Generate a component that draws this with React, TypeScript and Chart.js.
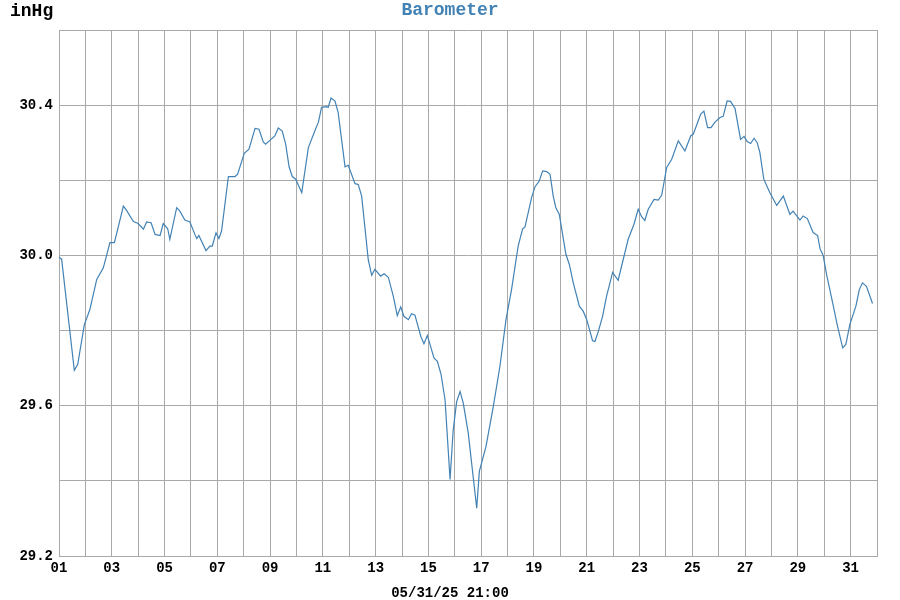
import React, { useEffect, useRef } from "react";
import { Chart, registerables } from "chart.js";

Chart.register(...registerables);

// Time in days since 05/01 00:00
const dayOffsets: number[] = [
  0.0, 0.1, 0.58, 0.71, 0.96, 1.17, 1.43, 1.68, 1.93, 2.1, 2.44, 2.56, 2.82, 3.0,
  3.2, 3.32, 3.49, 3.64, 3.83, 3.95, 4.12, 4.2, 4.46, 4.58, 4.77, 4.96, 5.15, 5.22,
  5.3, 5.57, 5.72, 5.81, 5.95, 6.06, 6.16, 6.42, 6.67, 6.77, 7.02, 7.2, 7.43, 7.58,
  7.74, 7.83, 8.0, 8.18, 8.31, 8.46, 8.59, 8.72, 8.84, 8.97, 9.2, 9.45, 9.73, 9.83,
  9.95, 10.14, 10.2, 10.31, 10.46, 10.58, 10.84, 10.96, 11.22, 11.34, 11.47, 11.72,
  11.85, 11.97, 12.19, 12.32, 12.48, 12.67, 12.82, 12.95, 13.07, 13.24, 13.36, 13.49,
  13.71, 13.83, 13.96, 14.21, 14.34, 14.48, 14.63, 14.82, 14.94, 15.07, 15.2, 15.32,
  15.51, 15.83, 15.93, 16.18, 16.46, 16.71, 16.94, 17.15, 17.4, 17.57, 17.66, 17.91,
  18.04, 18.2, 18.33, 18.48, 18.61, 18.73, 18.83, 18.96, 19.21, 19.34, 19.49, 19.72,
  19.87, 20.0, 20.22, 20.31, 20.44, 20.6, 20.75, 20.98, 21.19, 21.57, 21.79, 21.95,
  22.08, 22.2, 22.33, 22.55, 22.71, 22.84, 23.03, 23.22, 23.47, 23.72, 23.94, 24.04,
  24.32, 24.44, 24.58, 24.71, 24.86, 25.05, 25.17, 25.32, 25.45, 25.62, 25.83, 25.96,
  26.08, 26.21, 26.34, 26.46, 26.56, 26.71, 26.94, 27.2, 27.45, 27.7, 27.82, 28.08,
  28.2, 28.36, 28.58, 28.75, 28.84, 28.96, 29.09, 29.32, 29.49, 29.7, 29.82, 29.97,
  30.2, 30.33, 30.45, 30.6, 30.83,
];

const pressure: number[] = [
  29.995, 29.99, 29.694, 29.71, 29.816, 29.856, 29.936, 29.967, 30.034, 30.034, 30.131, 30.12, 30.09, 30.085,
  30.07, 30.089, 30.087, 30.056, 30.053, 30.085, 30.071, 30.043, 30.127, 30.118, 30.094, 30.089, 30.056, 30.045,
  30.053, 30.013, 30.025, 30.025, 30.06, 30.045, 30.065, 30.21, 30.21, 30.216, 30.272, 30.283, 30.338, 30.336,
  30.302, 30.296, 30.307, 30.318, 30.339, 30.331, 30.296, 30.236, 30.21, 30.203, 30.167, 30.287, 30.338, 30.354,
  30.394, 30.396, 30.394, 30.419, 30.411, 30.38, 30.236, 30.24, 30.191, 30.189, 30.158, 29.989,
  29.947, 29.963, 29.945, 29.951, 29.942, 29.891, 29.84, 29.863, 29.838, 29.829, 29.845, 29.841,
  29.785, 29.765, 29.787, 29.727, 29.718, 29.683, 29.616, 29.404, 29.536, 29.611, 29.638, 29.607,
  29.527, 29.327, 29.425, 29.491, 29.598, 29.705, 29.829, 29.909, 30.025, 30.071, 30.076, 30.154,
  30.183, 30.198, 30.225, 30.223, 30.216, 30.158, 30.127, 30.109, 30.003, 29.976, 29.927, 29.865,
  29.851, 29.829, 29.773, 29.771, 29.798, 29.838, 29.891, 29.955, 29.934, 30.043, 30.083, 30.123,
  30.103, 30.093, 30.123, 30.149, 30.147, 30.16, 30.234, 30.256, 30.305, 30.278, 30.318, 30.323,
  30.376, 30.384, 30.34, 30.34, 30.355, 30.367, 30.37, 30.411, 30.41, 30.391, 30.309, 30.317,
  30.303, 30.298, 30.312, 30.3, 30.274, 30.203, 30.167, 30.133, 30.158, 30.109, 30.118, 30.094,
  30.105, 30.098, 30.061, 30.053, 30.018, 30.0, 29.949, 29.874, 29.816, 29.754, 29.763, 29.816,
  29.865, 29.909, 29.927, 29.918, 29.872,
];

const yLabeledTicks: number[] = [29.2, 29.6, 30.0, 30.4];
const chartTitle = "Barometer";
const unitLabel = "inHg";
const timeLabel = "05/31/25 21:00";

const LINE_COLOR = "#4282b4";
const GRID_COLOR = "#a9a9a9";
const FONT = "'Liberation Mono', 'DejaVu Sans Mono', monospace";

export default function App() {
  const canvasRef = useRef<HTMLCanvasElement | null>(null);

  useEffect(() => {
    document.body.style.margin = "0";
    const canvas = canvasRef.current;
    if (!canvas) return;

    const textPlugin = {
      id: "textPlugin",
      afterDraw(chart: any) {
        const ctx = chart.ctx;
        ctx.save();
        ctx.textBaseline = "alphabetic";
        ctx.font = `bold 18px ${FONT}`;
        ctx.fillStyle = "#000000";
        ctx.textAlign = "left";
        ctx.fillText(unitLabel, 10, 16);
        ctx.fillStyle = LINE_COLOR;
        ctx.textAlign = "center";
        ctx.fillText(chartTitle, 450, 15);
        ctx.font = `bold 14px ${FONT}`;
        ctx.fillStyle = "#000000";
        ctx.fillText(timeLabel, 450, 597);
        ctx.restore();
      },
    };

    const chart = new Chart(canvas, {
      type: "line",
      data: {
        datasets: [
          {
            data: dayOffsets.map((d, i) => ({ x: d, y: pressure[i] })),
            borderColor: LINE_COLOR,
            borderWidth: 1.2,
            pointRadius: 0,
            tension: 0,
            fill: false,
          },
        ],
      },
      options: {
        animation: false,
        responsive: false,
        devicePixelRatio: 1,
        layout: { padding: { top: 30, right: 23, left: 0, bottom: 0 } },
        plugins: {
          legend: { display: false },
          tooltip: { enabled: false },
          title: { display: false },
        },
        scales: {
          x: {
            type: "linear",
            min: 0,
            max: 31,
            afterFit: (scale: any) => {
              scale.height = 44;
            },
            ticks: {
              stepSize: 1,
              autoSkip: false,
              maxRotation: 0,
              minRotation: 0,
              padding: 4,
              color: "#000000",
              font: { family: FONT, size: 14, weight: "bold" },
              callback: (v: any) => {
                const n = Math.round(Number(v));
                return n % 2 === 0 && n <= 30 ? String(n + 1).padStart(2, "0") : "";
              },
            },
            grid: { color: GRID_COLOR, lineWidth: 1, drawTicks: false },
            border: { color: GRID_COLOR, width: 1 },
          },
          y: {
            type: "linear",
            min: 29.2,
            max: 30.6,
            afterFit: (scale: any) => {
              scale.width = 59;
            },
            ticks: {
              stepSize: 0.2,
              padding: 6,
              color: "#000000",
              font: { family: FONT, size: 14, weight: "bold" },
              callback: (v: any) => {
                const n = Number(v);
                return yLabeledTicks.some((t) => Math.abs(t - n) < 1e-6) ? n.toFixed(1) : "";
              },
            },
            grid: { color: GRID_COLOR, lineWidth: 1, drawTicks: false },
            border: { color: GRID_COLOR, width: 1 },
          },
        },
      },
      plugins: [textPlugin],
    } as any);

    return () => {
      chart.destroy();
    };
  }, []);

  return (
    <div style={{ position: "relative", width: 900, height: 600, background: "#ffffff" }}>
      <canvas ref={canvasRef} width={900} height={600} style={{ display: "block", width: 900, height: 600 }} />
    </div>
  );
}
